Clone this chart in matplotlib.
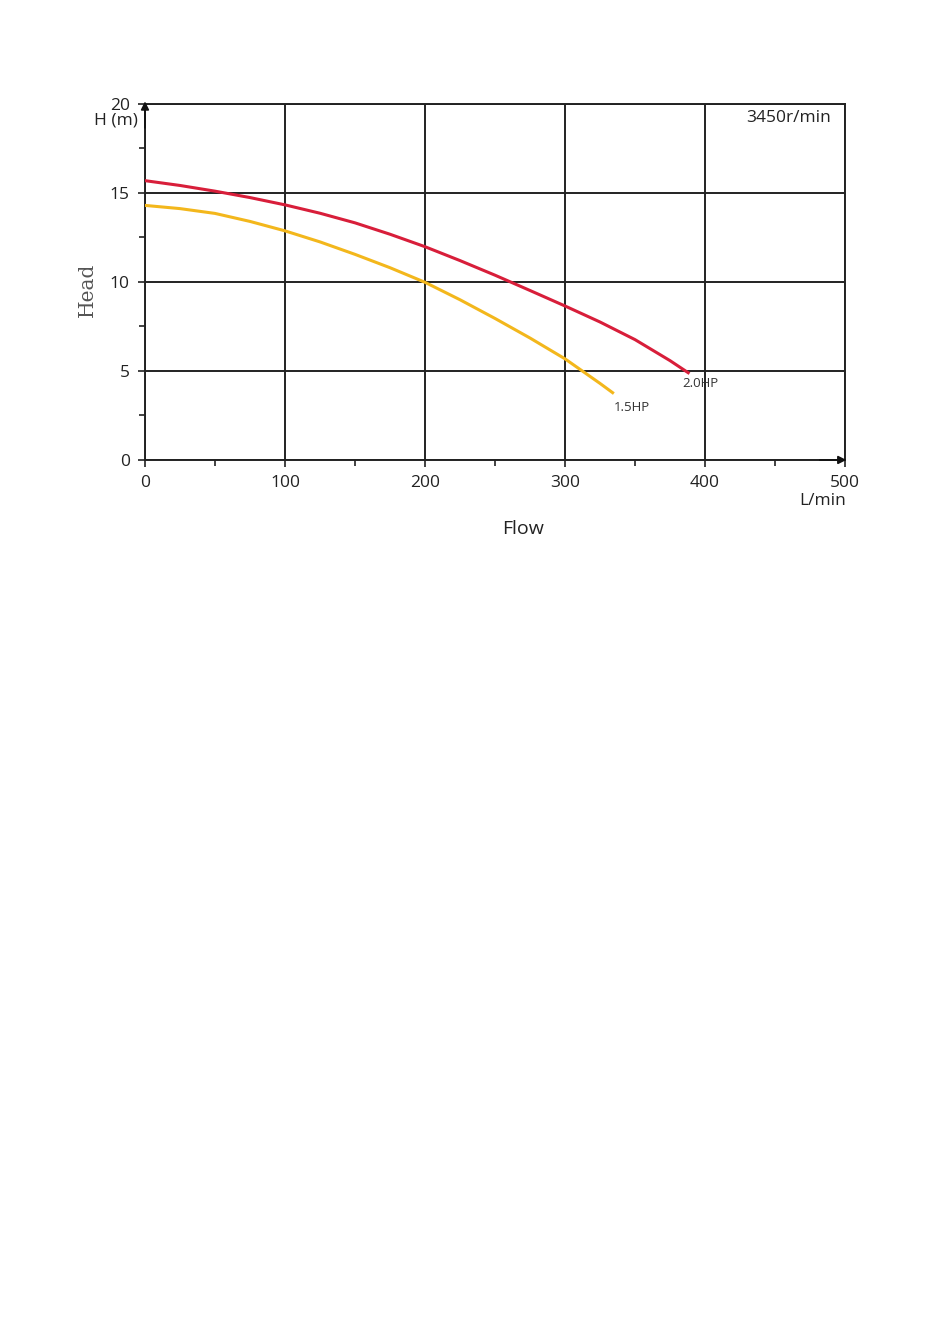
import matplotlib.pyplot as plt
from matplotlib.ticker import MultipleLocator

# pump curves (every 25 L/min)
flow_20 = [0, 25, 50, 75, 100, 125, 150, 175, 200, 225, 250, 275, 300, 325, 350, 375, 388]
head_20 = [15.69, 15.42, 15.1, 14.74, 14.33, 13.86, 13.32, 12.68, 11.98, 11.2, 10.38, 9.52,
           8.65, 7.75, 6.76, 5.58, 4.9]
flow_15 = [0, 25, 50, 75, 100, 125, 150, 175, 200, 225, 250, 275, 300, 325, 334]
head_15 = [14.3, 14.12, 13.85, 13.4, 12.87, 12.25, 11.55, 10.8, 9.98, 9.0, 7.95, 6.85,
           5.68, 4.3, 3.78]
x_ticks = [0, 100, 200, 300, 400, 500]
y_ticks = [0, 5, 10, 15, 20]

RED = "#d81e3a"
YEL = "#f3b71c"
INK = "#222222"
FONT = "Open Sans"

fig = plt.figure(figsize=(9.33, 13.24), dpi=100)
ax = fig.add_axes([0.1554, 0.6526, 0.7503, 0.2689])
ax.set_xlim(0, 500); ax.set_ylim(0, 20)

ax.set_xticks(x_ticks); ax.set_yticks(y_ticks)
ax.xaxis.set_minor_locator(MultipleLocator(50))
ax.yaxis.set_minor_locator(MultipleLocator(2.5))
ax.grid(True, which="major", color=INK, lw=1.4)
ax.tick_params(which="both", direction="out", color=INK, width=1.2)
ax.tick_params(which="major", length=5, labelsize=12.5, pad=6)
ax.tick_params(which="minor", length=4)
for lab in ax.get_xticklabels() + ax.get_yticklabels():
    lab.set_fontfamily(FONT); lab.set_color(INK)
for s in ax.spines.values():
    s.set_color(INK); s.set_linewidth(1.4)

ax.plot(flow_20, head_20, color=RED, lw=2.2, zorder=3)
ax.plot(flow_15, head_15, color=YEL, lw=2.2, zorder=3)

# axis arrows
ax.annotate("", xy=(0, 20.3), xytext=(0, 18.5), annotation_clip=False,
            arrowprops=dict(arrowstyle="-|>", color="#111111", lw=1.2, mutation_scale=12))
ax.annotate("", xy=(503, 0), xytext=(480, 0), annotation_clip=False,
            arrowprops=dict(arrowstyle="-|>", color="#111111", lw=1.2, mutation_scale=12))

ax.text(-5, 19.05, "H (m)", ha="right", va="center", fontsize=12.5, family=FONT, color=INK)
ax.text(501, -2.3, "L/min", ha="right", va="center", fontsize=12.5, family=FONT, color=INK)
ax.text(490, 19.2, "3450r/min", ha="right", va="center", fontsize=12.5, family=FONT, color=INK)
ax.text(384, 4.3, "2.0HP", ha="left", va="center", fontsize=9.5, family=FONT, color="#333333")
ax.text(335, 2.95, "1.5HP", ha="left", va="center", fontsize=9.5, family=FONT, color="#333333")

fig.text(0.094, 0.7808, "Head", rotation=90, ha="center", va="center", fontsize=14.5,
         family="DejaVu Serif", color="#555555")
fig.text(0.5606, 0.6005, "Flow", ha="center", va="center", fontsize=14, family=FONT, color=INK)

fig.savefig("out.png", dpi=100)
